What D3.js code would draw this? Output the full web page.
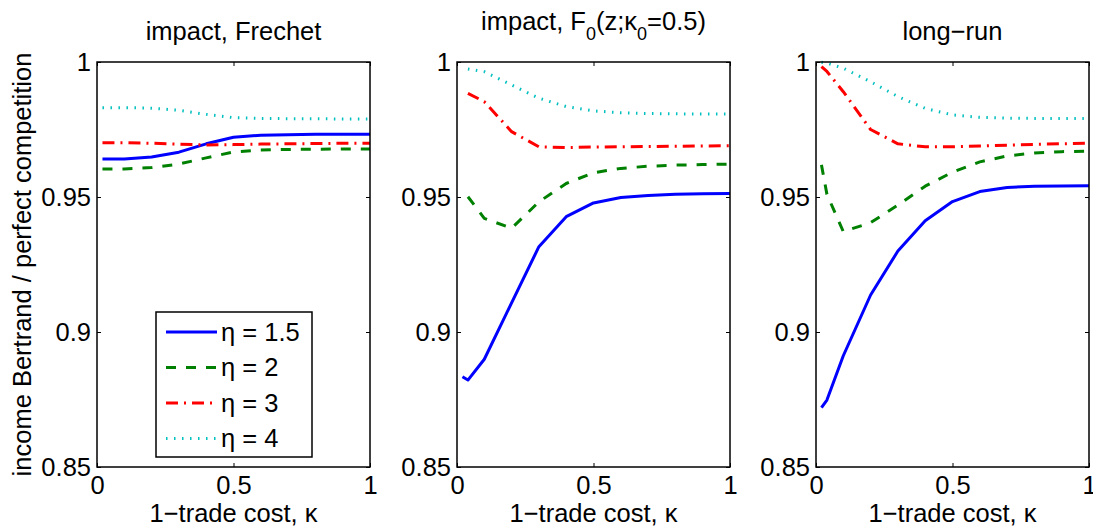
<!DOCTYPE html>
<html>
<head>
<meta charset="utf-8">
<script src="https://cdn.jsdelivr.net/npm/d3@7"></script>
<style>
  body { margin: 0; background: #fff; }
  text { font-family: "Liberation Sans", Arial, Helvetica, sans-serif; fill: #000; }
</style>
</head>
<body>
<svg id="chart" width="1093" height="527"></svg>
<script>
//  data
var kappa = [0.02, 0.04, 0.1, 0.2, 0.3, 0.4, 0.5, 0.6, 0.7, 0.8, 0.9, 1.0];

var etaLabels = ['η = 1.5', 'η = 2', 'η = 3', 'η = 4'];

//  impact, Frechet
var frechetEta15 = [0.9641, 0.9641, 0.9641, 0.9648, 0.9666, 0.9697, 0.9721, 0.9729, 0.9731, 0.9732, 0.9732, 0.9732];
var frechetEta2  = [0.9604, 0.9604, 0.9604, 0.9609, 0.9622, 0.9645, 0.9667, 0.9674, 0.9676, 0.9677, 0.9678, 0.9678];
var frechetEta3  = [0.9701, 0.9701, 0.9701, 0.9699, 0.9696, 0.9693, 0.9694, 0.9696, 0.9697, 0.9698, 0.9699, 0.9699];
var frechetEta4  = [0.9831, 0.9831, 0.9831, 0.9829, 0.9821, 0.9806, 0.9794, 0.9791, 0.9790, 0.9790, 0.9789, 0.9789];

//  impact, F0(z;k0=0.5)
var f0Eta15 = [0.8834, 0.8822, 0.8899, 0.9108, 0.9316, 0.9427, 0.9478, 0.9498, 0.9506, 0.9510, 0.9512, 0.9513];
var f0Eta2  = [null, 0.9501, 0.9421, 0.9384, 0.9482, 0.9550, 0.9590, 0.9606, 0.9614, 0.9618, 0.9620, 0.9622];
var f0Eta3  = [null, 0.9884, 0.9853, 0.9742, 0.9686, 0.9683, 0.9685, 0.9686, 0.9687, 0.9688, 0.9689, 0.9690];
var f0Eta4  = [null, 0.9974, 0.9964, 0.9915, 0.9866, 0.9835, 0.9819, 0.9812, 0.9809, 0.9808, 0.9807, 0.9807];

//  long-run
var longEta15 = [0.8720, 0.8748, 0.8912, 0.9137, 0.9300, 0.9412, 0.9483, 0.9520, 0.9535, 0.9540, 0.9541, 0.9542];
var longEta2  = [0.9619, 0.9510, 0.9372, 0.9405, 0.9470, 0.9540, 0.9592, 0.9630, 0.9652, 0.9663, 0.9668, 0.9670];
var longEta3  = [0.9983, 0.9965, 0.9890, 0.9750, 0.9697, 0.9686, 0.9686, 0.9689, 0.9692, 0.9695, 0.9697, 0.9699];
var longEta4  = [0.9999, 0.9996, 0.9977, 0.9927, 0.9872, 0.9828, 0.9804, 0.9795, 0.9792, 0.9791, 0.9791, 0.9791];

var xTicks = [0, 0.5, 1];
var yTicks = [0.85, 0.9, 0.95, 1];
var yTickLabels = ['0.85', '0.9', '0.95', '1'];

var svg = d3.select('#chart');

//  line styles, one per eta
var styles = [
    { color: '#0000ff', dash: null,          width: 3 },
    { color: '#008000', dash: '10,10',       width: 3 },
    { color: '#ff0000', dash: '12,6,2,6',    width: 3 },
    { color: '#00bfbf', dash: '1.5,6.5',     width: 3 }
];

var panels = [
    { left: 97,  title: 'frechet', series: [frechetEta15, frechetEta2, frechetEta3, frechetEta4], legend: true },
    { left: 457, title: 'f0',      series: [f0Eta15, f0Eta2, f0Eta3, f0Eta4] },
    { left: 816, title: 'long',    series: [longEta15, longEta2, longEta3, longEta4] }
];

var W = 273, H = 405, TOP = 62;
var FS = 25.5;

var x = d3.scaleLinear().domain([0, 1]).range([0, W]);
var y = d3.scaleLinear().domain([0.85, 1]).range([H, 0]);

var line = d3.line()
    .defined(function(d) { return d[1] != null; })
    .x(function(d) { return x(d[0]); })
    .y(function(d) { return y(d[1]); });

panels.forEach(function(p) {
    var g = svg.append('g').attr('transform', 'translate(' + p.left + ',' + TOP + ')');

    //  series
    p.series.forEach(function(vals, i) {
        var st = styles[i];
        g.append('path')
            .datum(kappa.map(function(k, j) { return [k, vals[j]]; }))
            .attr('fill', 'none')
            .attr('stroke', st.color)
            .attr('stroke-width', st.width)
            .attr('stroke-dasharray', st.dash)
            .attr('stroke-linejoin', 'round')
            .attr('d', line);
    });

    //  axes, ticks pointing inward
    var left = g.append('g').call(d3.axisLeft(y).tickValues(yTicks)
        .tickFormat(function(d, i) { return yTickLabels[i]; }).tickSize(-4).tickPadding(6));
    var right = g.append('g').attr('transform', 'translate(' + W + ',0)')
        .call(d3.axisRight(y).tickValues(yTicks).tickFormat('').tickSize(-4));
    var bottom = g.append('g').attr('transform', 'translate(0,' + H + ')')
        .call(d3.axisBottom(x).tickValues(xTicks).tickFormat(d3.format('')).tickSize(-4).tickPadding(9));
    var top = g.append('g').call(d3.axisTop(x).tickValues(xTicks).tickFormat('').tickSize(-4));

    [left, right, bottom, top].forEach(function(a) {
        a.select('.domain').remove();
        a.selectAll('line').attr('stroke', '#000').attr('stroke-width', 1);
        a.selectAll('text').attr('font-size', FS).attr('font-family', null).attr('fill', '#000');
    });

    g.append('rect')
        .attr('width', W).attr('height', H)
        .attr('fill', 'none').attr('stroke', '#000').attr('stroke-width', 1.5);

    //  x label
    g.append('text')
        .attr('x', W / 2).attr('y', H + 55)
        .attr('text-anchor', 'middle').attr('font-size', FS)
        .text('1\u2212trade cost, \u03ba');

    //  title
    var t = g.append('text')
        .attr('x', W / 2)
        .attr('text-anchor', 'middle').attr('font-size', FS);
    if (p.title === 'frechet') {
        t.attr('y', -22).text('impact, Frechet');
    } else if (p.title === 'long') {
        t.attr('y', -22).text('long\u2212run');
    } else {
        t.attr('y', -32);
        t.append('tspan').text('impact, F');
        t.append('tspan').attr('font-size', 18).attr('dy', 10).text('0');
        t.append('tspan').attr('dy', -10).text('(z;\u03ba');
        t.append('tspan').attr('font-size', 18).attr('dy', 10).text('0');
        t.append('tspan').attr('dy', -10).text('=0.5)');
    }

    //  legend
    if (p.legend) {
        var lg = g.append('g').attr('transform', 'translate(' + (156 - p.left) + ',' + (312 - TOP) + ')');
        lg.append('rect').attr('width', 156).attr('height', 145)
            .attr('fill', '#fff').attr('stroke', '#000').attr('stroke-width', 1.5);
        etaLabels.forEach(function(lab, i) {
            var st = styles[i];
            var cy = 20 + i * 35.5;
            lg.append('line')
                .attr('x1', 10).attr('x2', 61).attr('y1', cy).attr('y2', cy)
                .attr('stroke', st.color).attr('stroke-width', st.width)
                .attr('stroke-dasharray', st.dash);
            lg.append('text')
                .attr('x', 65).attr('y', cy).attr('dy', '0.35em')
                .attr('font-size', FS).text(lab);
        });
    }
});

//  shared y label
svg.append('text')
    .attr('transform', 'translate(31,' + (TOP + H / 2) + ') rotate(-90)')
    .attr('text-anchor', 'middle').attr('font-size', FS)
    .text('income Bertrand / perfect competition');
</script>
</body>
</html>
